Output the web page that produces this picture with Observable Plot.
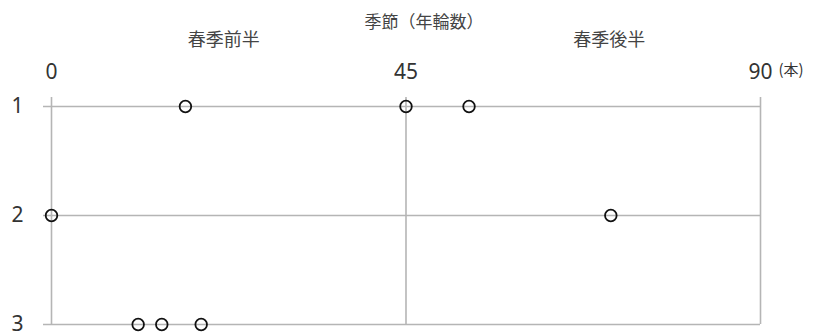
<!DOCTYPE html>
<html>
<head>
<meta charset="utf-8">
<script src="https://cdn.jsdelivr.net/npm/d3@7"></script>
<script src="https://cdn.jsdelivr.net/npm/@observablehq/plot@0.6"></script>
<style>
  html, body { margin: 0; padding: 0; background: #fff; }
  #chart { width: 815px; height: 335px; }
  #chart svg { overflow: visible; }
</style>
</head>
<body>
<div id="chart"></div>
<script>
// Data
const xTicks = [0, 45, 90];
const rowTicks = [1, 2, 3];
const rows  = [1, 1, 1, 2, 2, 3, 3, 3];
const rings = [17, 45, 53, 0, 71, 11, 14, 19];
const titleText = "季節（年輪数）";
const halfLabels = ["春季前半", "春季後半"];
const unitText = "(本)";

const points = rows.map((r, i) => ({row: r, rings: rings[i]}));
const xMax = xTicks[xTicks.length - 1];
const cjk = "'Noto Sans CJK JP', 'Noto Sans', sans-serif";
const gridColor = "#b5b5b5";

const chart = Plot.plot({
  width: 815,
  height: 335,
  marginLeft: 51,
  marginRight: 55,
  marginTop: 97,
  marginBottom: 11,
  style: {fontFamily: "'Noto Sans', sans-serif", background: "#fff", color: "#333"},
  x: {domain: [0, xMax], label: null},
  y: {domain: [1, 3], reverse: true, insetTop: 9, label: null},
  marks: [
    Plot.ruleY(rowTicks, {y: d => d, stroke: gridColor, strokeWidth: 1.6, insetLeft: -8}),
    Plot.ruleX(xTicks, {x: d => d, stroke: gridColor, strokeWidth: 1.6}),
    Plot.dot(points, {x: "rings", y: "row", r: 5.8, stroke: "#111", strokeWidth: 1.8, fill: "none"}),
    Plot.axisX({anchor: "top", ticks: xTicks, tickSize: 0, tickPadding: 19, fontSize: 21, tickFormat: d => String(d), label: null}),
    Plot.axisY({anchor: "left", ticks: rowTicks, tickSize: 0, tickPadding: 28, fontSize: 21, tickFormat: d => String(d), label: null}),
    Plot.text([unitText], {x: () => xMax, frameAnchor: "top", dx: 18, dy: -27, textAnchor: "start", lineAnchor: "middle", fontSize: 15, fontFamily: cjk, fill: "#333"}),
    Plot.text([titleText], {frameAnchor: "top", dx: 18, dy: -75, lineAnchor: "middle", fontSize: 17, fontFamily: cjk, fill: "#444"}),
    Plot.text([halfLabels[0]], {x: () => xMax / 4, frameAnchor: "top", dx: -5, dy: -57, lineAnchor: "middle", fontSize: 18, fontFamily: cjk, fill: "#444"}),
    Plot.text([halfLabels[1]], {x: () => xMax * 3 / 4, frameAnchor: "top", dx: 26, dy: -57, lineAnchor: "middle", fontSize: 18, fontFamily: cjk, fill: "#444"})
  ]
});
document.getElementById("chart").appendChild(chart);
</script>
</body>
</html>
